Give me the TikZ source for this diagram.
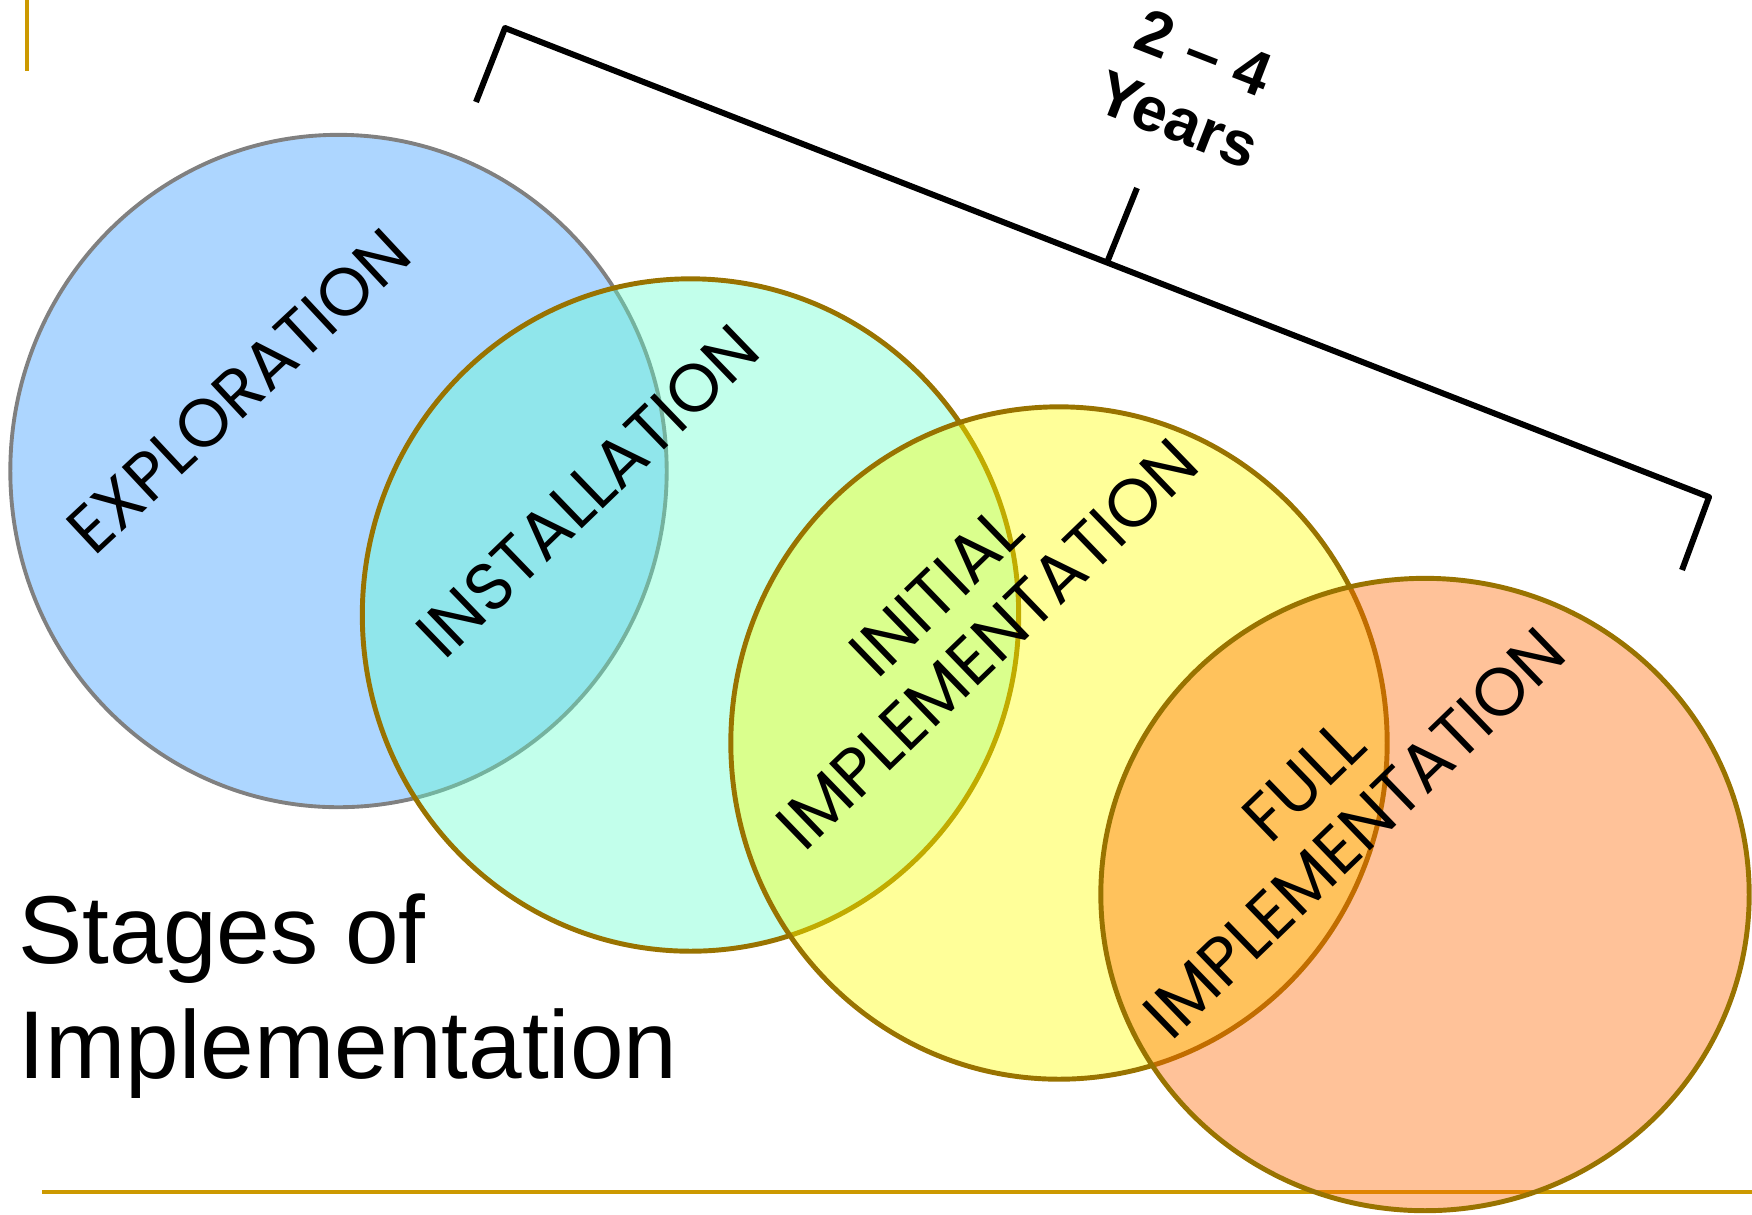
\documentclass[tikz,border=0pt]{standalone}
\usepackage{fontspec}
\setmainfont{Liberation Sans}
\newfontfamily\stagefont{Poppins}
\usetikzlibrary{shapes.geometric,calc}

\definecolor{ringgold}{HTML}{997300}
\definecolor{rulegold}{HTML}{CC9900}
\definecolor{explorecol}{HTML}{3399FF}
\definecolor{installcol}{HTML}{66FFCC}
\definecolor{initialcol}{HTML}{FFFF00}
\definecolor{fullcol}{HTML}{FF6600}

\begin{document}
\begin{tikzpicture}[x=0.01cm, y=-0.01cm,
                   stage/.style={ellipse, draw=ringgold, line width=1.4pt,
                                 fill opacity=0.4, draw opacity=1, inner sep=0pt,
                                 minimum width=6.56cm, minimum height=6.72cm},
                   stagetext/.style={font=\stagefont\fontsize{19.2}{20.9}\selectfont,
                                     align=center, rotate=44},
                   rulebar/.style={rulegold, line width=1.3pt},
                   bracket/.style={line width=1.7pt, line join=round}]
          \useasboundingbox (0,0) rectangle (1752,1214);
          % slide rules
          \draw[rulebar] (27,0) -- (27,71);
          \draw[rulebar] (42,1192) -- (1752,1192);
          % the four stages
          \node[stage, draw=gray, line width=1.1pt, fill=explorecol] (explore) at (338.5,471) {};
          \node[stage, fill=installcol] (install) at (690.5,615) {};
          \node[stage, fill=initialcol] (initial) at (1059,743) {};
          \node[stage, fill=fullcol, minimum width=6.48cm, minimum height=6.32cm] (full) at (1425,894.5) {};
          \node[stagetext, rotate=-1] (exploretext) at (238.5,391) {EXPLORATION};
          \node[stagetext] (installtext) at (588,491) {INSTALLATION};
          \node[stagetext] (initialtext) at (962,618) {INITIAL\\IMPLEMENTATION};
          \node[stagetext] (fulltext) at (1329,807) {FULL\\IMPLEMENTATION};
          % title
          \node[anchor=base west, inner sep=0pt, font=\fontsize{27.4}{33.5}\selectfont] (titletop) at (18,963) {Stages of};
          \node[anchor=base west, inner sep=0pt, font=\fontsize{27.4}{33.5}\selectfont] (titlebottom) at (18,1078) {Implementation};
          % time span
          \coordinate (brA) at (476,102);
          \coordinate (brB) at (505,28);
          \coordinate (brC) at (1709,497);
          \coordinate (brD) at (1682,570);
          \coordinate (brTip) at (1137,188);
          \draw[bracket] (brA) -- (brB) -- (brC) -- (brD);
          \draw[bracket] ($(brB)!0.5!(brC)$) -- (brTip);
          \node[font=\bfseries\fontsize{17.8}{20.5}\selectfont, align=center, rotate=-21.3] (span) at (1191,86) {2 -- 4\\Years};
        \end{tikzpicture}
\end{document}
